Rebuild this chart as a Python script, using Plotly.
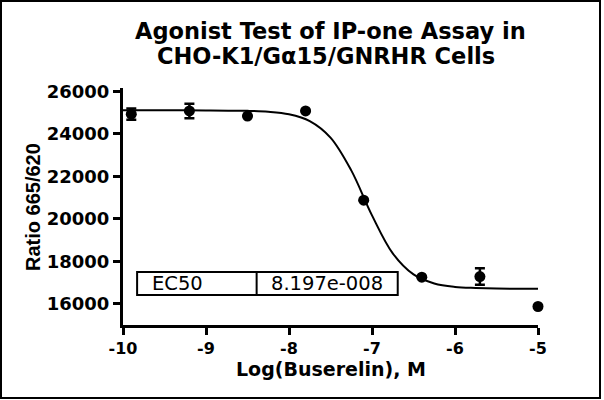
import plotly.graph_objects as go

# ---- data ----
log_conc = [-9.9, -9.2, -8.5, -7.8, -7.1, -6.4, -5.7, -5.0]
ratio = [24920, 25070, 24830, 25070, 20870, 17250, 17280, 15870]
ratio_err = [260, 340, 0, 0, 0, 0, 390, 0]

curve_x = [-10, -9.5, -9, -8.5, -8.25, -8, -7.75, -7.5, -7.25, -7, -6.75, -6.5, -6.25, -6, -5.75, -5.5, -5]
curve_y = [25100, 25099, 25097, 25076, 25033, 24914, 24596, 23819, 22274, 20158, 18370, 17380, 16955, 16792, 16740, 16712, 16701]

x_ticks = [-10, -9, -8, -7, -6, -5]
y_ticks = [16000, 18000, 20000, 22000, 24000, 26000]

ec50_label = "EC50"
ec50_value = "8.197e-008"

title_line1 = "Agonist Test of IP-one Assay in"
title_line2 = "CHO-K1/Gα15/GNRHR Cells"
x_title = "Log(Buserelin), M"
y_title = "Ratio 665/620"

# ---- figure ----
L, R, T, B = 123, 66, 88, 75
W, H = 604, 400
PW, PH = W - L - R, H - T - B

def px(xp):
    return (xp - L) / PW

def py(yp):
    return (H - B - yp) / PH

fig = go.Figure()

fig.add_trace(go.Scatter(
    x=curve_x, y=curve_y, mode="lines",
    line=dict(color="black", width=2, shape="spline", smoothing=1.0),
    hoverinfo="skip", showlegend=False, cliponaxis=False,
))

fig.add_trace(go.Scatter(
    x=log_conc, y=ratio, mode="markers",
    marker=dict(color="black", size=11, symbol="circle"),
    error_y=dict(type="data", array=ratio_err, visible=True,
                 color="black", thickness=2.5, width=5),
    showlegend=False, cliponaxis=False,
))

font_bold = dict(family="DejaVu Sans", color="black", weight="bold")

fig.update_layout(
    width=W, height=H,
    margin=dict(l=L, r=R, t=T, b=B, pad=0),
    paper_bgcolor="white", plot_bgcolor="white",
    showlegend=False,
    xaxis=dict(
        range=[-10, -5], tickvals=x_ticks, ticktext=[str(v) for v in x_ticks],
        showgrid=False, zeroline=False, showline=True, linecolor="black", linewidth=3,
        ticks="outside", ticklen=7, tickwidth=3, tickcolor="black",
        tickfont=dict(size=16, **font_bold),
    ),
    yaxis=dict(
        range=[15000, 26150], tickvals=y_ticks, ticktext=[str(v) for v in y_ticks],
        showgrid=False, zeroline=False, showline=True, linecolor="black", linewidth=3,
        ticks="outside", ticklen=7, tickwidth=2.5, tickcolor="black",
        tickfont=dict(size=18, **font_bold),
    ),
)

# EC50 table box
box_x0, box_xm, box_x1 = -9.83, -8.39, -6.69
box_y0, box_y1 = 16411, 17493
fig.add_shape(type="rect", xref="x", yref="y", x0=box_x0, x1=box_x1, y0=box_y0, y1=box_y1,
              line=dict(color="black", width=2), fillcolor="white", layer="above")
fig.add_shape(type="line", xref="x", yref="y", x0=box_xm, x1=box_xm, y0=box_y0, y1=box_y1,
              line=dict(color="black", width=2), layer="above")
box_mid = (box_y0 + box_y1) / 2
fig.add_annotation(x=-9.67, y=box_mid, xref="x", yref="y", text=ec50_label, showarrow=False,
                   xanchor="left", yanchor="middle",
                   font=dict(family="DejaVu Sans", size=19.5, color="black"))
fig.add_annotation(x=-8.24, y=box_mid, xref="x", yref="y", text=ec50_value, showarrow=False,
                   xanchor="left", yanchor="middle",
                   font=dict(family="DejaVu Sans", size=19.5, color="black"))

# Titles
fig.add_annotation(x=px(330), y=py(31), xref="paper", yref="paper", text=title_line1,
                   showarrow=False, xanchor="center", yanchor="middle",
                   font=dict(size=22.5, **font_bold))
fig.add_annotation(x=px(325.5), y=py(56), xref="paper", yref="paper", text=title_line2,
                   showarrow=False, xanchor="center", yanchor="middle",
                   font=dict(size=22.5, **font_bold))
fig.add_annotation(x=px(331), y=py(369), xref="paper", yref="paper", text=x_title,
                   showarrow=False, xanchor="center", yanchor="middle",
                   font=dict(size=19, **font_bold))
fig.add_annotation(x=px(33), y=py(207), xref="paper", yref="paper", text=y_title,
                   showarrow=False, xanchor="center", yanchor="middle", textangle=-90,
                   font=dict(family="Liberation Sans", size=20, color="black", weight="bold"))

# Outer frame
fig.add_shape(type="rect", xref="paper", yref="paper",
              x0=px(1), x1=px(600), y0=py(398), y1=py(1),
              line=dict(color="black", width=2), fillcolor="rgba(0,0,0,0)", layer="above")

fig.write_html("out.html", config={"displayModeBar": False},
               post_script="document.body.style.margin='0';")
